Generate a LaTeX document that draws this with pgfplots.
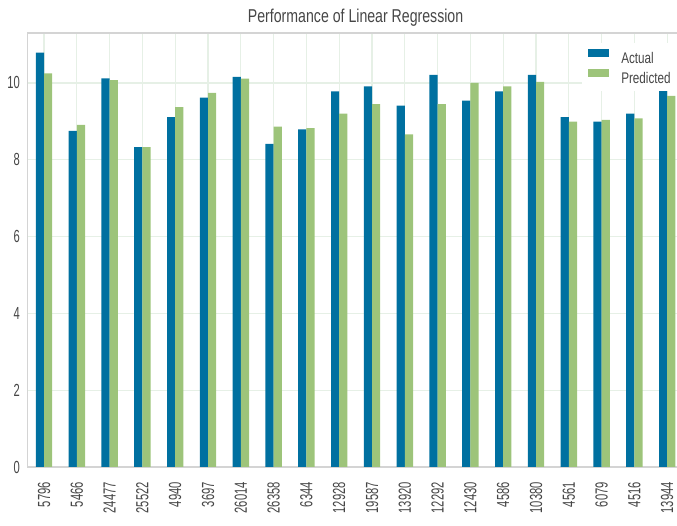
\documentclass[border=0pt]{standalone}
\usepackage{pgfplots}
\pgfplotsset{compat=1.18}
\usepackage{fontspec}
\setmainfont{Liberation Sans}
\newfontfamily\tickfont[FakeStretch=0.64]{Liberation Sans}
\newfontfamily\titlefont[FakeStretch=0.76]{Liberation Sans}
\newfontfamily\legfont[FakeStretch=0.76]{Liberation Sans}
\definecolor{actblue}{RGB}{0,112,160}
\definecolor{predgreen}{RGB}{157,196,122}
\definecolor{gridgreen}{RGB}{230,240,230}
\definecolor{spine}{RGB}{212,212,212}
\definecolor{txt}{RGB}{70,70,70}
\begin{document}
\begin{tikzpicture}
\begin{axis}[
  at={(0,0)}, anchor=south west,
  scale only axis,
  width=656bp, height=434bp,
  xmin=-0.5, xmax=19.5, ymin=0, ymax=11.3,
  enlargelimits=false,
  ybar=0pt, bar width=8.2bp,
  xtick={0,...,19},
  xticklabels={5796,5466,24477,25522,4940,3697,26014,26358,6344,12928,19587,13920,12292,12430,4586,10380,4561,6079,4516,13944},
  ytick={0,2,4,6,8,10},
  /pgf/number format/assume math mode=true,
  major tick length=0pt,
  grid=major,
  grid style={draw=gridgreen, line width=1.2bp},
  axis line style={draw=spine, line width=1.6bp},
  tick label style={font=\tickfont\fontsize{17.5bp}{20bp}\selectfont, text=txt, inner sep=0pt},
  yticklabel style={anchor=east, xshift=-7.6bp},
  xticklabel style={rotate=90, anchor=east, xshift=-15bp},
  title={Performance of Linear Regression},
  every axis title/.style={font=\titlefont\fontsize{18.6bp}{21bp}\selectfont, text=txt, at={(0.5,1)}, anchor=base, yshift=10.3bp, inner sep=0pt},
  legend cell align=left,
  legend image code/.code={\fill[#1] (0bp,1.5bp) rectangle (21bp,9.5bp);},
  legend style={
    font=\legfont\fontsize{15.4bp}{18bp}\selectfont, text=txt,
    draw=none, fill=white, inner sep=6bp,
    nodes={inner sep=0pt},
    row sep=3.8bp, column sep=12bp,
    at={(0.8452,0.977)}, anchor=north west},
]
\addplot[fill=actblue, draw=none] coordinates {
(0,10.79) (1,8.75) (2,10.12) (3,8.33) (4,9.11) (5,9.62) (6,10.16) (7,8.41) (8,8.79) (9,9.78)
(10,9.91) (11,9.41) (12,10.21) (13,9.54) (14,9.78) (15,10.21) (16,9.11) (17,8.99) (18,9.20) (19,9.83)};
\addlegendentry{Actual}
\addplot[fill=predgreen, draw=none] coordinates {
(0,10.25) (1,8.91) (2,10.07) (3,8.33) (4,9.37) (5,9.74) (6,10.11) (7,8.86) (8,8.82) (9,9.20)
(10,9.45) (11,8.66) (12,9.45) (13,10.00) (14,9.91) (15,10.03) (16,8.99) (17,9.04) (18,9.08) (19,9.66)};
\addlegendentry{Predicted}
\end{axis}
\pgfresetboundingbox
\useasboundingbox (-27.6bp,-59bp) rectangle (649.4bp,467bp);
\end{tikzpicture}
\end{document}
